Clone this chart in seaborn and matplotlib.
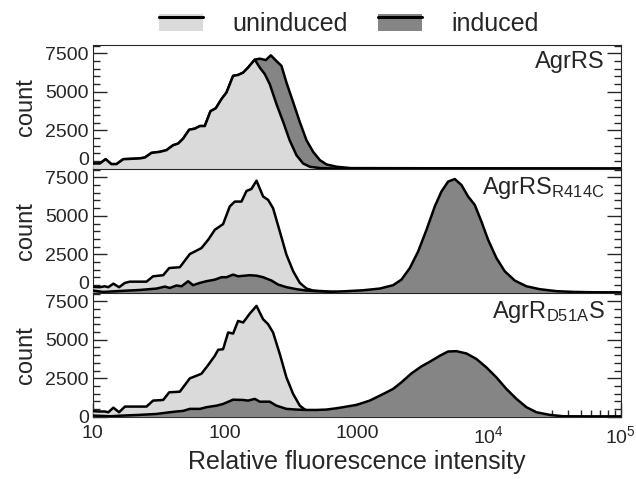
import numpy as np
import pandas as pd
import matplotlib
matplotlib.use("Agg")
import matplotlib.pyplot as plt
import seaborn as sns
from matplotlib.patches import Patch, Rectangle
from matplotlib.lines import Line2D
from matplotlib.legend_handler import HandlerBase
from matplotlib.ticker import MultipleLocator, FixedLocator, LogLocator, NullFormatter

sns.set_style("ticks")
plt.rcParams['font.family'] = ['Liberation Sans', 'DejaVu Sans']
plt.rcParams['mathtext.default'] = 'regular'
# tick look set through rc, before the axes exist
plt.rcParams.update({
    'xtick.direction': 'in', 'ytick.direction': 'in',
    'xtick.major.size': 10, 'xtick.minor.size': 5,
    'ytick.major.size': 10, 'ytick.minor.size': 5,
    'xtick.major.width': 1, 'xtick.minor.width': 1,
    'ytick.major.width': 1, 'ytick.minor.width': 1,
    'ytick.left': True, 'ytick.right': True,
    'xtick.bottom': True, 'xtick.top': False,
    'xtick.labelsize': 14, 'ytick.labelsize': 14,
    'xtick.major.pad': 6, 'ytick.major.pad': 3,
})

# Histogram curves (intensity, count)
top_un_x = [10, 11.3, 12.5, 13.8, 15.1, 17.0, 22.7, 24.8, 27.8, 32.2, 36.1, 40.6, 44.3, 48.3,
            53.7, 59.3, 64.7, 70.5, 77.9, 85.5, 94.4, 103, 115.6, 126, 137.7, 150, 168.7, 184,
            201, 219, 246, 277, 310, 349, 392, 440, 525, 700, 1000, 100000]
top_un_y = [330, 330, 610, 290, 290, 610, 660, 720, 1020, 1090, 1200, 1520, 1630, 1950,
            2530, 2600, 2770, 2770, 3740, 3930, 4530, 4960, 6040, 6100, 6250, 6580, 7100, 6580,
            6150, 5500, 4210, 3030, 1840, 870, 330, 120, 30, 0, 0, 0]

top_ind_x = [10, 11.3, 12.5, 13.8, 15.1, 17.0, 22.7, 24.8, 27.8, 32.2, 36.1, 40.6, 44.3, 48.3,
             53.7, 59.3, 64.7, 70.5, 77.9, 85.5, 94.4, 103, 115.6, 126, 137.7, 150, 168.7, 184,
             204.5, 223, 246, 268.7, 293, 329.5, 370, 416, 467, 525, 589, 701, 900, 100000]
top_ind_y = [330, 330, 610, 290, 290, 610, 660, 720, 1020, 1090, 1200, 1520, 1630, 1950,
             2530, 2600, 2770, 2770, 3740, 3930, 4530, 4960, 6040, 6100, 6250, 6580, 7100, 7160,
             7070, 7380, 7010, 6690, 5610, 4320, 3030, 1840, 1090, 550, 270, 120, 30, 0]

mid_un_x = [10, 11.3, 12.3, 13.1, 14.3, 15.8, 17.5, 19.1, 25.5, 28.6, 34.1, 37.9, 45.6, 54.3,
            61, 66.5, 74.8, 84, 97, 109, 119, 133.7, 146, 159, 173.8, 195, 212.8, 232, 261,
            293, 329.5, 370, 416, 467, 556, 700, 1000, 100000]
mid_un_y = [370, 350, 410, 350, 580, 350, 630, 710, 710, 1060, 1130, 1600, 1650, 2510,
            2730, 2900, 3440, 4090, 4460, 5610, 5930, 5930, 6620, 6750, 7290, 6260, 6040, 5500, 3980,
            2470, 1390, 630, 260, 130, 90, 30, 0, 0]

mid_ind_x = [10, 12, 15.1, 22.7, 30.4, 35.1, 38.3, 43, 47, 52.7, 57.5, 64.7, 72.6, 84, 94.4,
             103, 115.6, 126, 154.6, 173.8, 195, 226, 253.5, 293, 349, 416, 494, 624, 835, 1117,
             1494, 1884, 2178, 2523, 2917, 3374, 3899, 4376, 4920, 5525, 6210, 6972, 7837, 8798,
             9885, 11430, 13210, 15740, 19290, 24320, 32590, 43550, 61700, 100000]
mid_ind_y = [130, 40, 90, 170, 260, 390, 300, 460, 410, 740, 480, 630, 740, 840, 1000,
             1000, 1170, 1060, 1130, 1100, 1000, 780, 520, 350, 220, 130, 90, 45, 90, 150,
             260, 480, 840, 1600, 2680, 4090, 5610, 6580, 7230, 7400, 7010, 6260, 5710, 4630,
             3440, 2250, 1390, 780, 410, 220, 90, 45, 20, 0]

bot_un_x = [10, 11.3, 12.3, 13.1, 14.3, 15.8, 17.5, 25.5, 28.6, 34.1, 37.9, 45.6, 54.3, 61,
            66.5, 74.8, 84, 89, 97, 106, 115.6, 126, 137.7, 154.6, 173.8, 195, 212.8, 232, 261,
            293, 329.5, 370, 404, 450, 500, 600, 800, 100000]
bot_un_y = [350, 330, 330, 280, 580, 280, 650, 650, 1040, 1080, 1580, 1620, 2490, 2660,
            2790, 3360, 3960, 4350, 4390, 5480, 5410, 6230, 6130, 6710, 7210, 6340, 6020, 5480, 4070,
            2550, 1470, 710, 455, 300, 150, 40, 0, 0]

bot_ind_x = [10, 13.5, 17, 22.7, 30.4, 38.3, 43, 48.3, 54.3, 64.7, 72.6, 86.5, 97, 115.6,
             137.7, 150, 168.7, 184, 219, 246, 293, 349, 416, 494, 589, 701, 787, 995, 1254,
             1585, 1884, 2178, 2594, 3090, 3573, 4254, 4920, 5690, 6776, 8070, 9600, 11430,
             13600, 16220, 19290, 22960, 28970, 36560, 51860, 100000]
bot_ind_y = [65, 20, 65, 110, 170, 280, 330, 370, 500, 500, 610, 710, 820, 1100,
             1080, 1040, 1150, 970, 970, 710, 500, 455, 430, 430, 455, 540, 610, 760, 1040,
             1470, 1800, 2230, 2810, 3270, 3570, 3960, 4240, 4260, 4110, 3750, 3200, 2550,
             1800, 1150, 610, 280, 110, 20, 0, 0]

panel_labels = ['AgrRS', r'AgrRS$_{\mathregular{R414C}}$', r'AgrR$_{\mathregular{D51A}}$S']
legend_labels = ['uninduced', 'induced']
xtick_vals = [10, 100, 1000, 1e4, 1e5]
xtick_labels = ['10', '100', '1000', r'$\mathregular{10^4}$', r'$\mathregular{10^5}$']
ytick_vals = [0, 2500, 5000, 7500]

light = '#dadada'
dark = '#858585'

# (uninduced, induced, induced drawn on top?)
panels = [
    ((top_un_x, top_un_y), (top_ind_x, top_ind_y), False),
    ((mid_un_x, mid_un_y), (mid_ind_x, mid_ind_y), True),
    ((bot_un_x, bot_un_y), (bot_ind_x, bot_ind_y), True),
]


class FillLineHandler(HandlerBase):
    # grey box with a black line along its top, like the histogram outline
    def create_artists(self, legend, orig_handle, xdescent, ydescent, width, height,
                       fontsize, trans):
        rect = Rectangle((-xdescent, -ydescent), width, height,
                         facecolor=orig_handle.get_facecolor(), edgecolor='none',
                         transform=trans)
        yl = -ydescent + height * 0.8
        line = Line2D([-xdescent, -xdescent + width], [yl, yl], color='black',
                      lw=2.2, transform=trans)
        return [rect, line]


fig, axes = plt.subplots(3, 1, figsize=(6.36, 4.79), dpi=100, sharex=True)
fig.subplots_adjust(left=0.146, right=0.976, top=0.906, bottom=0.1294, hspace=0)

for i, (ax, (un, ind, ind_top)) in enumerate(zip(axes, panels)):
    series = [(un, light), (ind, dark)]
    if not ind_top:
        series = series[::-1]
    for k, ((xs, ys), col) in enumerate(series):
        df = pd.DataFrame({'x': xs, 'y': ys})
        ax.fill_between(df['x'], df['y'], 0, color=col, lw=0, zorder=3 + 2 * k)
        sns.lineplot(data=df, x='x', y='y', color='black', lw=1.8, ax=ax,
                     zorder=4 + 2 * k, estimator=None, sort=False)

    ax.set_xscale('log')
    ax.set_xlim(10, 1e5)
    ax.set_ylim(-30, 8050)
    ax.set_yticks(ytick_vals)
    ax.yaxis.set_minor_locator(MultipleLocator(500))
    ax.set_xlabel('')
    ax.set_ylabel('count', fontsize=17, labelpad=6)
    ax.text(0.97, 0.955, panel_labels[i], transform=ax.transAxes, ha='right', va='top',
            fontsize=17, zorder=12)
    if i < 2:
        ax.tick_params(axis='x', which='both', bottom=False, labelbottom=False)
        ax.yaxis.get_major_ticks()[0].label1.set_va('bottom')

bax = axes[-1]
bax.xaxis.set_major_locator(FixedLocator(xtick_vals))
bax.xaxis.set_minor_locator(LogLocator(base=10, subs=np.arange(2, 10)))
bax.xaxis.set_minor_formatter(NullFormatter())
bax.set_xticklabels(xtick_labels)
bax.set_xlabel('Relative fluorescence intensity', fontsize=18, labelpad=2)

handles = [Patch(facecolor=light), Patch(facecolor=dark)]
fig.legend(handles, legend_labels, loc='center', bbox_to_anchor=(349 / 636, 1 - 24 / 479),
           ncol=2, frameon=False, fontsize=18, handlelength=1.75, handleheight=0.7,
           handletextpad=1.2, columnspacing=1.2, handler_map={Patch: FillLineHandler()})

fig.savefig('out.png', dpi=100)
